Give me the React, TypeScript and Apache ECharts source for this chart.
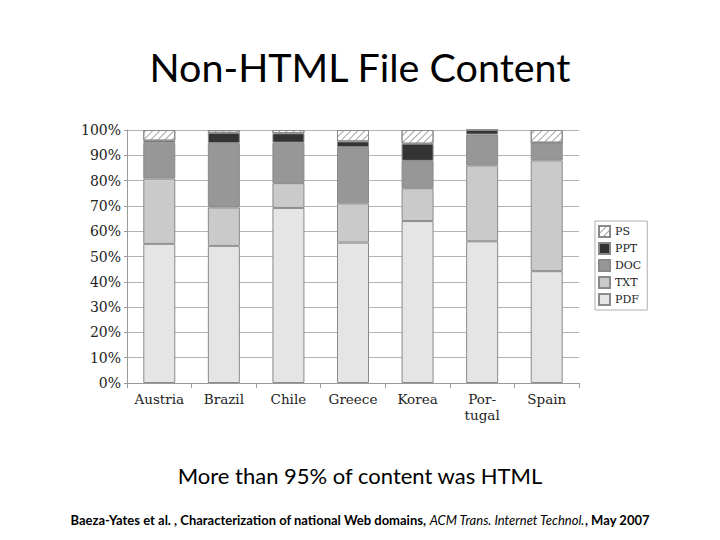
import React, { useEffect, useRef } from 'react';
import * as echarts from 'echarts';

const countries = ['Austria', 'Brazil', 'Chile', 'Greece', 'Korea', 'Por-\ntugal', 'Spain'];
const pdf = [55, 54.2, 69.2, 55.5, 64, 56, 44.2];
const txt = [25.8, 15.2, 9.8, 15.5, 13, 30, 43.8];
const doc = [14.2, 25.4, 16, 22.2, 10.8, 12.2, 7];
const ppt = [0.8, 4.1, 3.7, 2.3, 6.8, 1.8, 0];
const ps = [4.2, 1.1, 1.3, 4.5, 5.4, 0, 5];
const legendOrder = ['PS', 'PPT', 'DOC', 'TXT', 'PDF'];

const serif = 'DejaVu Serif';
const sans = 'Lato';

const App: React.FC = () => {
  const chartRef = useRef<HTMLDivElement>(null);

  useEffect(() => {
    if (!chartRef.current) return;
    const chart = echarts.init(chartRef.current, null, { renderer: 'svg' });

    const bar = (name: string, data: number[], color: string, extra: any = {}) => ({
      name,
      type: 'bar',
      stack: 'total',
      barWidth: 32,
      data,
      itemStyle: { color, borderColor: '#8a8a8a', borderWidth: 1, ...extra }
    });

    const option: any = {
      animation: false,
      backgroundColor: '#ffffff',
      title: [
        {
          text: 'Non-HTML File Content',
          left: 'center',
          top: 41,
          textStyle: { fontFamily: sans, fontWeight: 'normal', fontSize: 39.5, color: '#000' }
        },
        {
          text: 'More than 95% of content was HTML',
          left: 'center',
          top: 459,
          textStyle: { fontFamily: sans, fontWeight: 'normal', fontSize: 22, color: '#000' }
        },
        {
          text: '{b|Baeza-Yates et al. , Characterization of national Web domains, }{i|ACM Trans. Internet Technol.}{b|, May 2007}',
          left: 'center',
          top: 508,
          textStyle: {
            rich: {
              b: { fontFamily: sans, fontWeight: 'bold', fontSize: 13, color: '#000' },
              i: { fontFamily: sans, fontStyle: 'italic', fontWeight: 'normal', fontSize: 13, color: '#000' }
            }
          }
        }
      ],
      grid: { left: 127, right: 141, top: 130, bottom: 157, containLabel: false },
      legend: {
        orient: 'vertical',
        left: 595,
        top: 221,
        data: legendOrder,
        icon: 'rect',
        itemWidth: 11,
        itemHeight: 11,
        itemGap: 4,
        padding: [4, 6, 4, 3],
        borderColor: '#b0b0b0',
        borderWidth: 1,
        textStyle: { fontFamily: serif, fontSize: 11, color: '#222', lineHeight: 13 }
      },
      xAxis: {
        type: 'category',
        data: countries,
        axisLine: { lineStyle: { color: '#9a9a9a' } },
        axisTick: { show: true, interval: 0, length: 5, lineStyle: { color: '#9a9a9a' } },
        axisLabel: { fontFamily: serif, fontSize: 13.5, color: '#222', margin: 8, lineHeight: 16, interval: 0 }
      },
      yAxis: {
        type: 'value',
        min: 0,
        max: 100,
        interval: 10,
        axisLine: { show: true, lineStyle: { color: '#9a9a9a' } },
        axisTick: { show: true, length: 3, lineStyle: { color: '#9a9a9a' } },
        splitLine: { lineStyle: { color: '#b3b3b3' } },
        axisLabel: { formatter: '{value}%', fontFamily: serif, fontSize: 14, color: '#222', margin: 6 }
      },
      series: [
        bar('PDF', pdf, '#e5e5e5'),
        bar('TXT', txt, '#cacaca'),
        bar('DOC', doc, '#979797'),
        bar('PPT', ppt, '#333333'),
        bar('PS', ps, '#ffffff', {
          decal: {
            symbol: 'rect',
            symbolSize: 1,
            color: '#a0a0a0',
            dashArrayX: [1, 0],
            dashArrayY: [1, 4],
            rotation: -Math.PI / 4
          }
        })
      ]
    };

    chart.setOption(option);
    return () => {
      chart.dispose();
    };
  }, []);

  return (
    <div
      ref={chartRef}
      style={{ position: 'absolute', left: 0, top: 0, width: '720px', height: '540px' }}
    />
  );
};

export default App;
